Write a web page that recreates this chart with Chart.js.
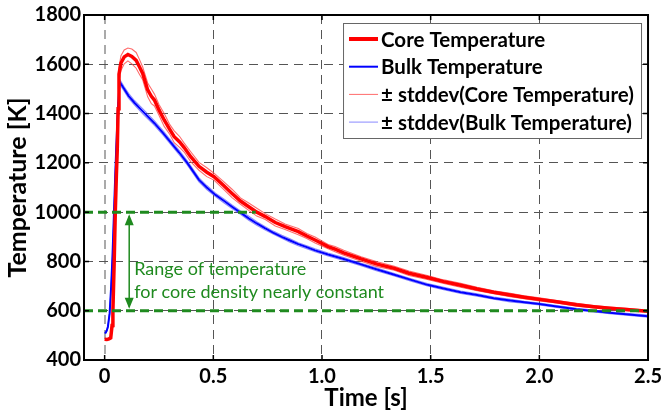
<!DOCTYPE html>
<html><head><meta charset="utf-8">
<script src="https://cdn.jsdelivr.net/npm/chart.js@4.4.0/dist/chart.umd.min.js"></script>
<style>html,body{margin:0;padding:0;background:#fff;overflow:hidden}#wrap{width:667px;height:413px}</style>
</head><body><div id="wrap"><canvas id="c" width="667" height="413"></canvas></div>
<script>
// ---- data ----
const coreTime = [0, 0.01, 0.02, 0.028, 0.034, 0.038, 0.044, 0.049, 0.054, 0.058, 0.062, 0.066, 0.075, 0.09, 0.107, 0.125, 0.145, 0.16, 0.175, 0.198, 0.215, 0.229, 0.25, 0.274, 0.3, 0.32, 0.345, 0.366, 0.396, 0.434, 0.47, 0.503, 0.545, 0.586, 0.625, 0.663, 0.7, 0.739, 0.785, 0.83, 0.891, 0.93, 0.968, 1.028, 1.06, 1.1, 1.18, 1.25, 1.333, 1.4, 1.485, 1.56, 1.638, 1.714, 1.79, 1.866, 1.93, 2.0, 2.08, 2.171, 2.25, 2.323, 2.4, 2.5];
const coreTemp = [484, 483, 486, 490, 540, 600, 800, 1000, 1150, 1250, 1420, 1560, 1605, 1630, 1640, 1632, 1616, 1590, 1563, 1496, 1470, 1455, 1415, 1374, 1335, 1306, 1285, 1262, 1225, 1186, 1162, 1144, 1110, 1076, 1045, 1022, 1000, 982, 958, 941, 921, 903, 887, 860, 850, 835, 810, 790, 772, 752, 735, 718, 703, 688, 675, 664, 655, 646, 636, 624, 616, 610, 605, 598];
const coreStd = [3, 3, 3, 4, 8, 10, 12, 14, 16, 20, 25, 28, 30, 28, 26, 30, 32, 30, 26, 28, 30, 24, 22, 26, 20, 24, 22, 18, 20, 16, 18, 14, 16, 17, 13, 15, 16, 12, 14, 11, 13, 10, 12, 9, 11, 10, 9, 10, 8, 9, 8, 7, 8, 7, 6, 7, 6, 6, 5, 6, 5, 5, 5, 4];

const bulkTime = [0, 0.005, 0.01, 0.015, 0.023, 0.03, 0.036, 0.043, 0.048, 0.053, 0.06, 0.069, 0.09, 0.11, 0.137, 0.18, 0.229, 0.27, 0.32, 0.343, 0.38, 0.434, 0.47, 0.51, 0.55, 0.586, 0.625, 0.663, 0.7, 0.739, 0.775, 0.815, 0.85, 0.891, 0.93, 0.968, 1.028, 1.1, 1.18, 1.25, 1.333, 1.41, 1.485, 1.56, 1.638, 1.714, 1.79, 1.866, 1.93, 2.0, 2.08, 2.171, 2.25, 2.323, 2.4, 2.5];
const bulkTemp = [510, 511, 520, 535, 590, 700, 820, 1000, 1130, 1252, 1400, 1529, 1500, 1472, 1444, 1405, 1361, 1320, 1266, 1242, 1200, 1131, 1100, 1070, 1045, 1022, 998, 975, 954, 934, 917, 900, 886, 870, 858, 845, 828, 810, 788, 768, 746, 725, 705, 690, 675, 664, 651, 641, 634, 627, 617, 606, 599, 592, 586, 578];
const bulkStd = [2, 2, 3, 3, 4, 5, 6, 7, 8, 9, 10, 10, 9, 10, 9, 10, 9, 9, 8, 9, 8, 8, 8, 7, 8, 7, 7, 8, 7, 7, 6, 6, 7, 6, 6, 6, 6, 6, 5, 6, 5, 5, 5, 5, 5, 5, 4, 5, 4, 4, 4, 4, 4, 4, 4, 4];

const xTickValues = [0, 0.5, 1.0, 1.5, 2.0, 2.5];
const xTickLabels = ["0", "0.5", "1.0", "1.5", "2.0", "2.5"];
const yTickValues = [400, 600, 800, 1000, 1200, 1400, 1600, 1800];
const yTickLabels = ["400", "600", "800", "1000", "1200", "1400", "1600", "1800"];
const seriesNames = ["Core Temperature", "Bulk Temperature", "\u00b1 stddev(Core Temperature)", "\u00b1 stddev(Bulk Temperature)"];
const rangeLimits = [600, 1000];          // K, green dashed lines
const rangeUpperEnd = 0.695;              // s, where the 1000 K line stops
const arrowTime = 0.113;                  // s
const noteLines = ["Range of temperature", "for core density nearly constant"];

// ---- build library data ----
const pts = (t, v) => t.map((x, i) => ({x: x, y: v[i]}));
const shift = (v, s, sign) => v.map((y, i) => y + sign * s[i]);

const RED = '#ff0000', BLUE = '#0000ff', PINK = 'rgba(255,70,70,0.8)', LBLUE = 'rgba(60,60,255,0.6)';
const GREEN = '#1f8a1f';

const datasets = [
  {label: seriesNames[0], data: pts(coreTime, coreTemp), borderColor: RED, borderWidth: 3.5},
  {label: seriesNames[1], data: pts(bulkTime, bulkTemp), borderColor: BLUE, borderWidth: 2},
  {label: seriesNames[2], data: pts(coreTime, shift(coreTemp, coreStd, 1)), borderColor: PINK, borderWidth: 1.1},
  {label: '', data: pts(coreTime, shift(coreTemp, coreStd, -1)), borderColor: PINK, borderWidth: 1.1},
  {label: seriesNames[3], data: pts(bulkTime, shift(bulkTemp, bulkStd, 1)), borderColor: LBLUE, borderWidth: 1.1},
  {label: '', data: pts(bulkTime, shift(bulkTemp, bulkStd, -1)), borderColor: LBLUE, borderWidth: 1.1}
].map(d => Object.assign({showLine: true, pointRadius: 0, tension: 0, fill: false}, d));

const legendItems = [
  {ds: 0, w: 4}, {ds: 1, w: 2}, {ds: 2, w: 1}, {ds: 4, w: 1}
];

const overlayPlugin = {
  id: 'overlay',
  afterDatasetsDraw(chart) {
    const {ctx, chartArea: a, scales: {x, y}} = chart;
    ctx.save();
    // green range lines
    ctx.strokeStyle = GREEN; ctx.lineWidth = 3; ctx.setLineDash([9, 5]);
    const yHi = y.getPixelForValue(rangeLimits[1]), yLo = y.getPixelForValue(rangeLimits[0]);
    ctx.beginPath(); ctx.moveTo(a.left, yHi); ctx.lineTo(x.getPixelForValue(rangeUpperEnd), yHi); ctx.stroke();
    ctx.beginPath(); ctx.moveTo(a.left, yLo); ctx.lineTo(a.right, yLo); ctx.stroke();
    ctx.setLineDash([]);
    // double arrow
    const ax = x.getPixelForValue(arrowTime);
    ctx.lineWidth = 1.5;
    ctx.beginPath(); ctx.moveTo(ax, yHi + 4); ctx.lineTo(ax, yLo - 4); ctx.stroke();
    ctx.fillStyle = GREEN;
    ctx.beginPath(); ctx.moveTo(ax, yHi + 2); ctx.lineTo(ax - 4.5, yHi + 13); ctx.lineTo(ax + 4.5, yHi + 13); ctx.closePath(); ctx.fill();
    ctx.beginPath(); ctx.moveTo(ax, yLo - 2); ctx.lineTo(ax - 4.5, yLo - 13); ctx.lineTo(ax + 4.5, yLo - 13); ctx.closePath(); ctx.fill();
    // note
    ctx.font = '18px Lato'; ctx.textAlign = 'left'; ctx.textBaseline = 'middle';
    const mid = (yHi + yLo) / 2;
    ctx.fillText(noteLines[0], ax + 5, mid + 8);
    ctx.fillText(noteLines[1], ax + 5, mid + 31);
    // frame
    ctx.strokeStyle = '#000'; ctx.lineWidth = 2;
    ctx.strokeRect(a.left, a.top, a.right - a.left, a.bottom - a.top);
    ctx.lineWidth = 1.5;
    ctx.beginPath();
    xTickValues.forEach(v => { const px = x.getPixelForValue(v);
      ctx.moveTo(px, a.bottom); ctx.lineTo(px, a.bottom - 5);
      ctx.moveTo(px, a.top); ctx.lineTo(px, a.top + 5); });
    yTickValues.forEach(v => { const py = y.getPixelForValue(v);
      ctx.moveTo(a.left, py); ctx.lineTo(a.left + 5, py);
      ctx.moveTo(a.right, py); ctx.lineTo(a.right - 5, py); });
    ctx.stroke();
    // legend
    const L = a.right - 305, T = a.top + 8, W = 298, H = 115;
    ctx.fillStyle = '#fff'; ctx.fillRect(L, T, W, H);
    ctx.strokeStyle = '#666'; ctx.lineWidth = 1; ctx.strokeRect(L + 0.5, T + 0.5, W, H);
    ctx.font = 'bold 20.5px Lato'; ctx.fillStyle = '#000'; ctx.textBaseline = 'middle';
    legendItems.forEach((it, i) => {
      const ry = T + 16 + i * 27.7;
      const d = chart.data.datasets[it.ds];
      ctx.strokeStyle = d.borderColor; ctx.lineWidth = it.w;
      ctx.beginPath(); ctx.moveTo(L + 6, ry); ctx.lineTo(L + 35, ry); ctx.stroke();
      ctx.fillText(d.label, L + 38, ry + 1);
    });
    ctx.restore();
  }
};

new Chart(document.getElementById('c'), {
  type: 'scatter',
  data: {datasets},
  options: {
    responsive: false, animation: false, devicePixelRatio: 1,
    layout: {padding: {left: 0, right: 11, top: 15, bottom: 0}},
    plugins: {legend: {display: false}, tooltip: {enabled: false}},
    scales: {
      x: {
        type: 'linear', min: -0.095, max: 2.5,
        afterBuildTicks: s => { s.ticks = xTickValues.map(v => ({value: v})); },
        afterFit: s => { s.height = 53; },
        ticks: {callback: (v, i) => xTickLabels[i], font: {family: 'Lato', weight: 'bold', size: 20}, color: '#000', padding: 5, maxRotation: 0, autoSkip: false},
        grid: {drawTicks: false, color: c => (c.tick && c.tick.value === 0) ? '#aaa' : '#555', lineWidth: c => (c.tick && c.tick.value === 0) ? 2 : 1},
        border: {display: false, dash: [9, 6]},
        title: {display: true, text: 'Time [s]', color: '#000', font: {family: 'Lato', weight: 'bold', size: 24}, padding: {top: 0, bottom: 0}}
      },
      y: {
        type: 'linear', min: 400, max: 1800,
        afterBuildTicks: s => { s.ticks = yTickValues.map(v => ({value: v})); },
        afterFit: s => { s.width = 84; },
        ticks: {callback: (v, i) => yTickLabels[i], font: {family: 'Lato', weight: 'bold', size: 20}, color: '#000', padding: 3},
        grid: {drawTicks: false, color: '#555', lineWidth: 1},
        border: {display: false, dash: [9, 6]},
        title: {display: true, text: 'Temperature [K]', color: '#000', font: {family: 'Lato', weight: 'bold', size: 25}, padding: {top: 3, bottom: 0}}
      }
    }
  },
  plugins: [overlayPlugin]
});
</script></body></html>
